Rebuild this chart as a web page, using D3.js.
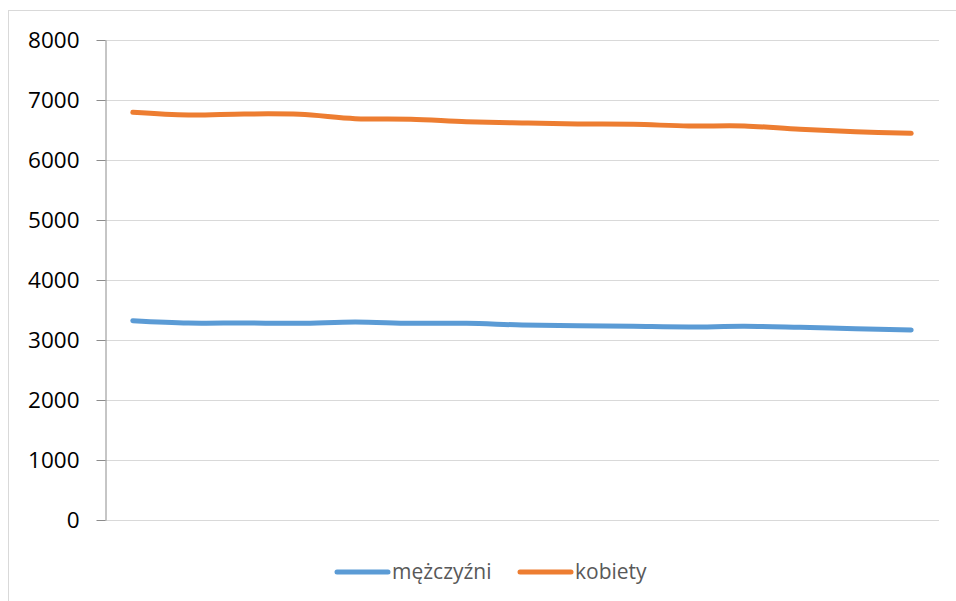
<html>
<head>
    <meta charset="utf-8">
    <title>Chart</title>
    <script src="https://cdn.jsdelivr.net/npm/d3@7" charset="utf-8"></script>
    <style>
        body { margin: 0; background: #fff; }
        text { font-family: "Open Sans", "Liberation Sans", sans-serif; }
    </style>
</head>
<body>
<script>
    // 15 points, no category labels shown on the axis
    var categories = ["1", "2", "3", "4", "5", "6", "7", "8", "9", "10", "11", "12", "13", "14", "15"];
    var mezczyzni = [3322, 3283, 3283, 3278, 3300, 3278, 3278, 3250, 3239, 3228, 3217, 3228, 3211, 3189, 3167];
    var kobiety = [6795, 6750, 6767, 6761, 6689, 6678, 6639, 6617, 6600, 6595, 6567, 6567, 6511, 6472, 6444];
    var yTicks = [0, 1000, 2000, 3000, 4000, 5000, 6000, 7000, 8000];
    var seriesNames = ["mężczyźni", "kobiety"];
    var colors = ["#5b9bd5", "#ed7d31"];

    var width = 956;
    var height = 601;

    var svg = d3.select("body")
        .append("svg")
        .attr("width", width)
        .attr("height", height);

    // chart frame
    svg.append("rect")
        .attr("x", 8.5)
        .attr("y", 10.5)
        .attr("width", 960)
        .attr("height", 600)
        .attr("fill", "none")
        .attr("stroke", "#d9d9d9")
        .attr("stroke-width", 1);

    var plot = {left: 105, right: 939, top: 40, bottom: 520};

    var x = d3.scalePoint()
        .domain(categories)
        .range([plot.left, plot.right])
        .padding(0.5);

    var y = d3.scaleLinear()
        .domain([0, 8000])
        .range([plot.bottom, plot.top]);

    // gridlines
    svg.append("g")
        .selectAll("line")
        .data(yTicks.slice(1))
        .enter()
        .append("line")
        .attr("x1", plot.left)
        .attr("x2", plot.right)
        .attr("y1", function(d){ return Math.round(y(d)) + 0.5; })
        .attr("y2", function(d){ return Math.round(y(d)) + 0.5; })
        .attr("stroke", "#d9d9d9")
        .attr("stroke-width", 1);

    // x axis line (at zero)
    svg.append("line")
        .attr("x1", plot.left)
        .attr("x2", plot.right)
        .attr("y1", plot.bottom + 0.5)
        .attr("y2", plot.bottom + 0.5)
        .attr("stroke", "#d9d9d9")
        .attr("stroke-width", 1);

    // y axis
    var yAxis = d3.axisLeft(y)
        .tickValues(yTicks)
        .tickSize(9)
        .tickPadding(17)
        .tickSizeOuter(0)
        .tickFormat(d3.format("d"));

    var gy = svg.append("g")
        .attr("transform", "translate(" + (plot.left + 0.5) + ",0)")
        .call(yAxis);

    gy.selectAll("path, line").attr("stroke", "#8c8c8c").attr("stroke-width", 1);
    gy.selectAll("text")
        .attr("fill", "#000")
        .attr("font-size", "22.5px")
        .style("font-family", "'Open Sans', 'Liberation Sans', sans-serif");

    // lines
    var line = d3.line()
        .x(function(d, i){ return x(categories[i]); })
        .y(function(d){ return y(d); })
        .curve(d3.curveCatmullRom.alpha(0.5));

    var allSeries = [mezczyzni, kobiety];

    svg.append("g")
        .selectAll("path")
        .data(allSeries)
        .enter()
        .append("path")
        .attr("d", function(d){ return line(d); })
        .attr("fill", "none")
        .attr("stroke", function(d, i){ return colors[i]; })
        .attr("stroke-width", 5)
        .attr("stroke-linecap", "round")
        .attr("stroke-linejoin", "round");

    // legend
    var legendPos = [{lx: 337, tx: 392}, {lx: 520, tx: 575}];
    var legend = svg.append("g")
        .selectAll("g")
        .data(seriesNames)
        .enter()
        .append("g");

    legend.append("line")
        .attr("x1", function(d, i){ return legendPos[i].lx; })
        .attr("x2", function(d, i){ return legendPos[i].lx + 51; })
        .attr("y1", 572)
        .attr("y2", 572)
        .attr("stroke", function(d, i){ return colors[i]; })
        .attr("stroke-width", 5)
        .attr("stroke-linecap", "round");

    legend.append("text")
        .attr("x", function(d, i){ return legendPos[i].tx; })
        .attr("y", 579)
        .attr("fill", "#595959")
        .attr("font-size", "21px")
        .text(function(d){ return d; });
</script>
</body>
</html>
